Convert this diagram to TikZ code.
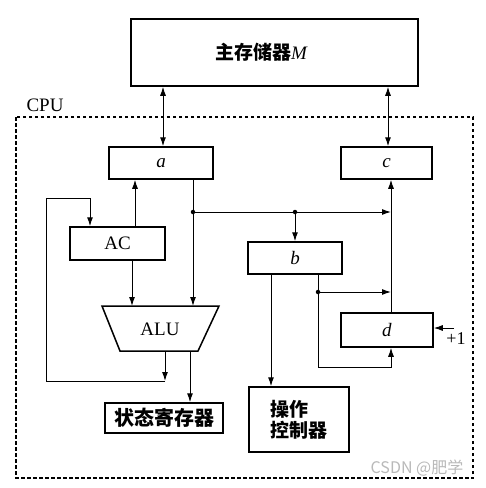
\documentclass[tikz,border=0pt]{standalone}
\usepackage{fontspec}
\setmainfont{Liberation Serif}
\newfontfamily\cjk{Noto Sans CJK SC}
\usetikzlibrary{arrows.meta,calc}
\begin{document}
\begin{tikzpicture}[x=1pt,y=-1pt,
  box/.style={draw,line width=1.5pt,inner sep=0pt,font=\fontsize{19}{22}\selectfont},
  conn/.style={line width=1pt},
  arr/.style={conn,-{Latex[length=9pt,width=6pt]}},
  darr/.style={conn,{Latex[length=9pt,width=6pt]}-{Latex[length=9pt,width=6pt]}},
  dot/.style={circle,fill,inner sep=0pt,minimum size=4.5pt}]
\useasboundingbox (0,0) rectangle (486,488);
% CPU frame
\node[font=\fontsize{19}{22}\selectfont,inner sep=0pt] (cpulbl) at (45,105) {CPU};
\draw[line width=1.1pt,dash pattern=on 3.5pt off 2.5pt] (16,117) rectangle (473,478);
% boxes
\node[box,minimum width=287pt,minimum height=67pt] (M) at (274.5,52.5)
  {{\cjk\bfseries 主存储器}\textit{M}\hspace*{26pt}};
\node[box,minimum width=104pt,minimum height=32pt] (a) at (161,163) {\textit{a}};
\node[box,minimum width=91pt,minimum height=32pt] (c) at (386.5,163) {\textit{c}};
\node[box,minimum width=95pt,minimum height=33pt] (AC) at (117.5,243.5) {AC};
\node[box,minimum width=94pt,minimum height=32pt] (b) at (295,258) {\textit{b}};
\node[box,minimum width=92pt,minimum height=34pt] (d) at (387,330) {\textit{d}};
\node[box,minimum width=118pt,minimum height=30pt,font=\fontsize{20}{22}\selectfont] (SR) at (164,418) {\cjk\bfseries 状态寄存器};
\node[box,minimum width=100pt,minimum height=65pt,align=left] (CU) at (299,419.5)
  {\cjk\bfseries 操作\\[-1pt]\cjk\bfseries 控制器};
% ALU trapezoid
\coordinate (alutl) at (102,306);
\coordinate (alutr) at (219,306);
\coordinate (alubr) at (198,351);
\coordinate (alubl) at (120,351);
\draw[line width=1.5pt,line join=miter] (alutl) -- (alutr) -- (alubr) -- (alubl) -- cycle;
\node[inner sep=0pt,font=\fontsize{19}{22}\selectfont] (ALU) at (160,329) {ALU};
% memory links
\draw[darr] ([xshift=2pt]a.north) -- ([xshift=2pt]a.north |- M.south);
\draw[darr] ([xshift=1.5pt]c.north) -- ([xshift=1.5pt]c.north |- M.south);
% AC -> a, AC -> ALU
\draw[arr] ([xshift=17.5pt]AC.north) -- ([xshift=17.5pt]AC.north |- a.south);
\draw[arr] ([xshift=14.5pt]AC.south) -- ([xshift=14.5pt]AC.south |- alutl);
% a -> ALU with junctions
\coordinate (j1) at (193,212);
\coordinate (j2) at (295,212);
\draw[arr] ([xshift=32pt]a.south) -- ([xshift=32pt]a.south |- alutl);
\node[dot] at (j1) {};
\node[dot] at (j2) {};
\coordinate (v1) at ([xshift=4pt]d.north |- j1);
\draw[arr] (j1) -- (v1);
\draw[arr] ([xshift=4pt]d.north) -- ([xshift=4pt]d.north |- c.south);
\draw[arr] (j2) -- (b.north);
% b -> control unit
\draw[arr] ([xshift=-24pt]b.south) -- ([xshift=-24pt]b.south |- CU.north);
% b -> d
\coordinate (j3) at ([xshift=23pt]b.south |- 0,292);
\node[dot] at (j3) {};
\draw[conn] ([xshift=23pt]b.south) -- (j3);
\draw[arr] (j3) -- ([xshift=4pt]d.north |- j3);
\coordinate (bl) at ([xshift=23pt]b.south |- 0,367);
\draw[arr] (j3) -- (bl) -- ([xshift=4pt]d.south |- bl) -- ([xshift=4pt]d.south);
% +1
\coordinate (p1) at (454,328);
\draw[arr] (p1) -- (d.east |- p1);
\node[inner sep=0pt,font=\fontsize{18}{20}\selectfont] (plus) at (456,339) {+1};
% ALU outputs
\coordinate (lp) at (165,381);
\draw[arr] (alubl -| lp) -- (lp);
\draw[arr] (lp) -- (46,381) -- (46,198) -- (90,198) -- (90,198 |- AC.north);
\draw[arr] (alubl -| 190,0) -- (190,0 |- SR.north);
% watermark
\node[inner sep=0pt,text=gray!55,font=\cjk\fontsize{16}{18}\selectfont] (wm) at (417,468) {CSDN @肥学};
\end{tikzpicture}
\end{document}
